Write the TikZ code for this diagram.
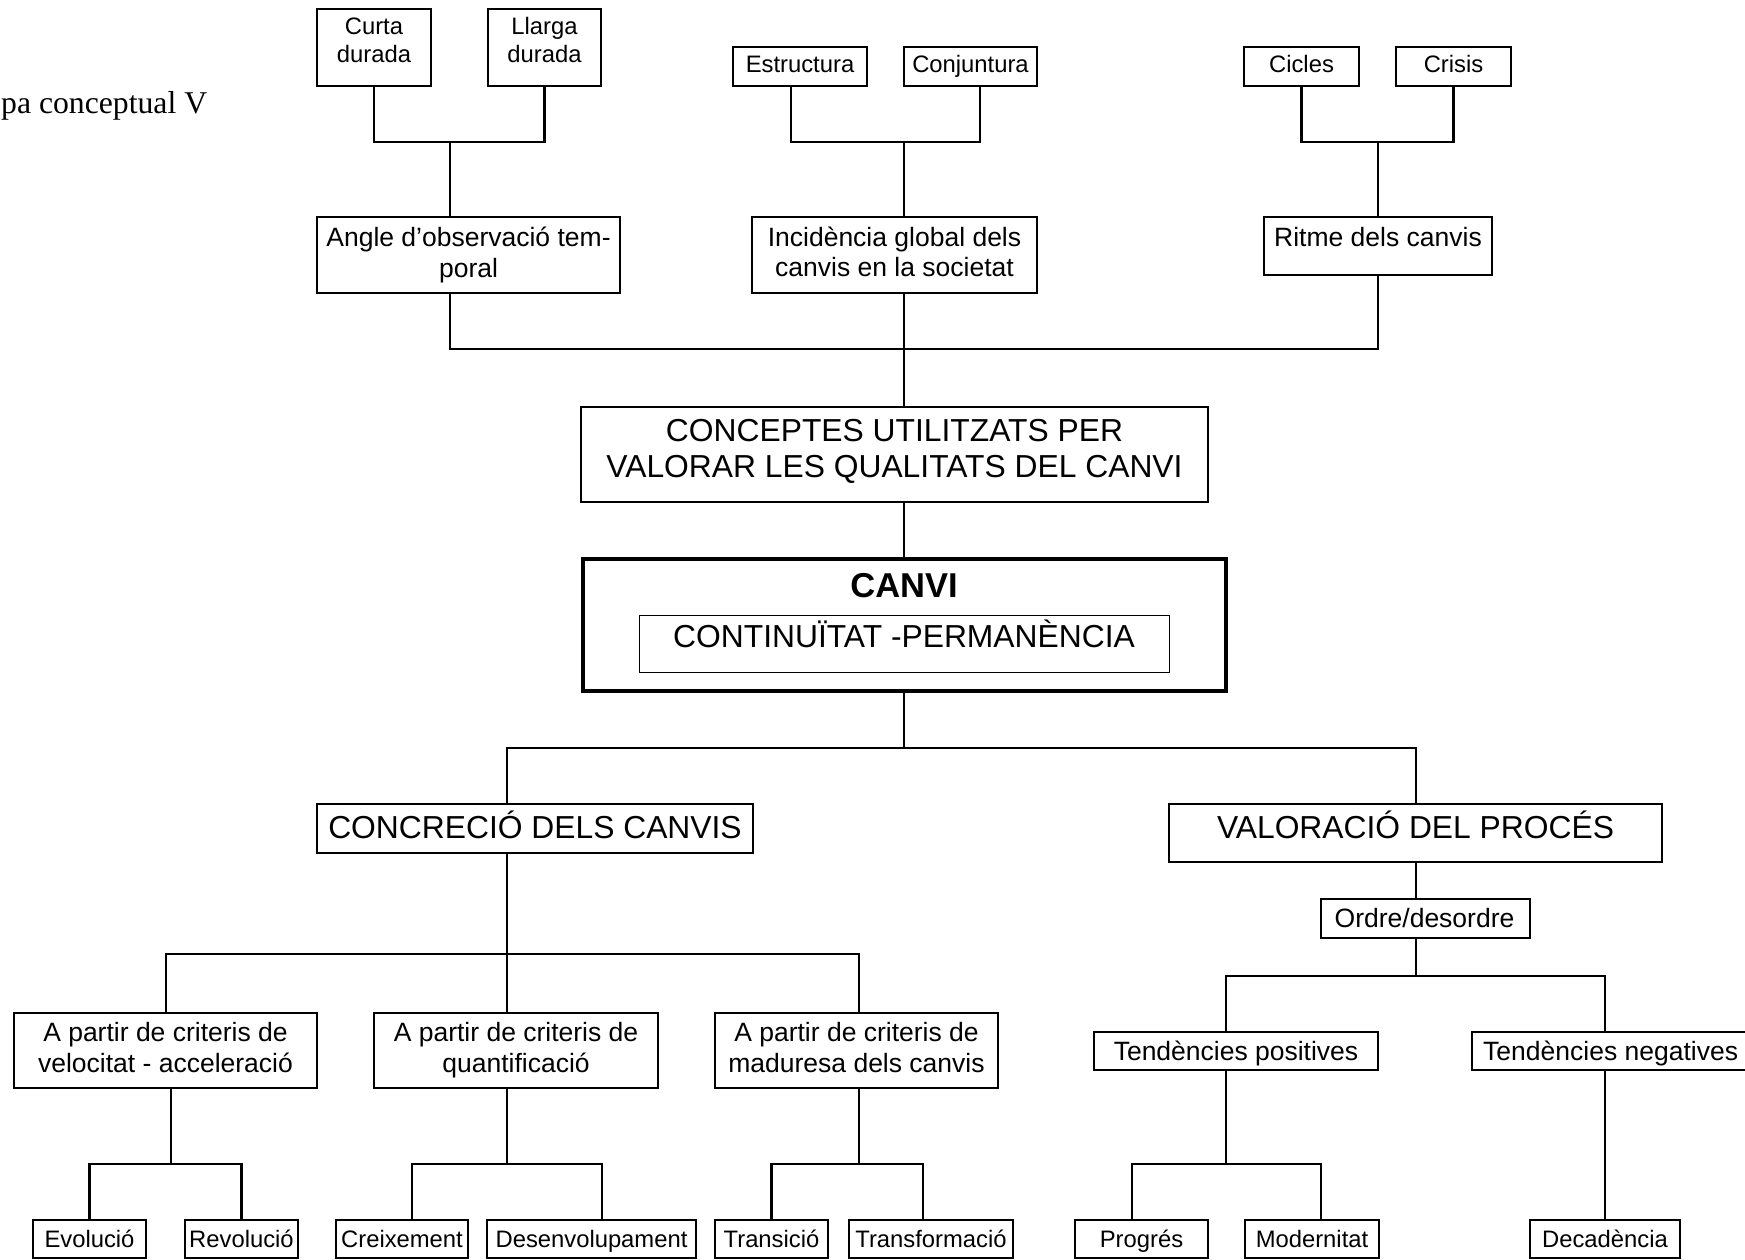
\documentclass[tikz,border=0pt]{standalone}
\usepackage{fontspec}
\setmainfont{Liberation Sans}
\newfontfamily\titlefont{Liberation Serif}
\begin{document}
\begin{tikzpicture}[x=1pt,y=-1pt,
  box/.style={draw, rectangle, line width=1.5pt, inner sep=0pt},
  thickbox/.style={draw, rectangle, line width=4pt, inner sep=0pt},
  thinbox/.style={draw, rectangle, line width=1pt, inner sep=0pt},
  link/.style={line width=2.2pt},
  lbl/.style={inner sep=0pt, anchor=base, align=center},
  small/.style={font=\fontsize{23.8}{28}\selectfont},
  medium/.style={font=\fontsize{26.5}{30.5}\selectfont},
  large/.style={font=\fontsize{31.8}{36}\selectfont},
  heading/.style={font=\fontsize{34.5}{40}\selectfont\bfseries}]
\useasboundingbox (0,0) rectangle (1745,1260);

% caption fragment at the upper left
\node[inner sep=0pt, anchor=base west, font=\titlefont\fontsize{31.7}{36}\selectfont] (title) at (1,114) {pa conceptual V};

% label positions give the baseline of the last line of each text

% ---- upper level: qualities of change ----
\node[box, minimum width=114, minimum height=77] (curta) at (374,47.5) {};
\node[box, minimum width=113, minimum height=77] (llarga) at (544.5,47.5) {};
\node[box, minimum width=134, minimum height=39] (estructura) at (800,66.5) {};
\node[box, minimum width=133, minimum height=39] (conjuntura) at (970.5,66.5) {};
\node[box, minimum width=115, minimum height=39] (cicles) at (1301.5,66.5) {};
\node[box, minimum width=115, minimum height=39] (crisis) at (1453.5,66.5) {};

\node[lbl, small] (curta-t) at (374,63) {Curta\\durada};
\node[lbl, small] (llarga-t) at (544.5,63) {Llarga\\durada};
\node[lbl, small] (estructura-t) at (800,73) {Estructura};
\node[lbl, small] (conjuntura-t) at (970.5,73) {Conjuntura};
\node[lbl, small] (cicles-t) at (1301.5,73) {Cicles};
\node[lbl, small] (crisis-t) at (1453.5,73) {Crisis};

\node[box, minimum width=303, minimum height=76] (angle) at (468.5,255) {};
\node[box, minimum width=285, minimum height=76] (incid) at (894.5,255) {};
\node[box, minimum width=228, minimum height=58] (ritme) at (1378,246) {};

\node[lbl, medium] (angle-t) at (468.5,277) {Angle d’observació tem-\\poral};
\node[lbl, medium] (incid-t) at (894.5,276.5) {Incidència global dels\\canvis en la societat};
\node[lbl, medium] (ritme-t) at (1378,246) {Ritme dels canvis};

\node[box, minimum width=627, minimum height=95] (conceptes) at (894.5,454.5) {};
\node[lbl, large] (conceptes-t) at (894.5,477) {CONCEPTES UTILITZATS PER\\VALORAR LES QUALITATS DEL CANVI};

% ---- central concept ----
\node[thickbox, minimum width=643, minimum height=132] (canvi) at (904.5,625) {};
\node[lbl, heading] (canvi-t) at (904,597) {CANVI};
\node[thinbox, minimum width=530, minimum height=57] (cont) at (904,643.5) {};
\node[lbl, large] (cont-t) at (904,647) {CONTINUÏTAT -PERMANÈNCIA};

% ---- lower level ----
\node[box, minimum width=436, minimum height=49] (concrecio) at (535,828.5) {};
\node[lbl, large] (concrecio-t) at (535,838) {CONCRECIÓ DELS CANVIS};
\node[box, minimum width=493, minimum height=58] (valoracio) at (1415.5,833) {};
\node[lbl, large] (valoracio-t) at (1415.5,838) {VALORACIÓ DEL PROCÉS};

\node[box, minimum width=209, minimum height=39] (ordre) at (1425.5,918.5) {};
\node[lbl, medium] (ordre-t) at (1424.5,927) {Ordre/desordre};

\node[box, minimum width=284, minimum height=38] (tpos) at (1236,1051) {};
\node[lbl, medium] (tpos-t) at (1236,1060) {Tendències positives};
\node[box, minimum width=284, minimum height=38] (tneg) at (1614,1051) {};
\node[lbl, medium, anchor=base west] (tneg-t) at (1483,1060) {Tendències negatives};

\node[box, minimum width=303, minimum height=75] (critA) at (165.5,1050.5) {};
\node[box, minimum width=284, minimum height=75] (critB) at (516,1050.5) {};
\node[box, minimum width=283, minimum height=75] (critC) at (856.5,1050.5) {};
\node[lbl, medium] (critA-t) at (165.5,1072) {A partir de criteris de\\velocitat - acceleració};
\node[lbl, medium] (critB-t) at (516,1072) {A partir de criteris de\\quantificació};
\node[lbl, medium] (critC-t) at (856.5,1072) {A partir de criteris de\\maduresa dels canvis};

\node[box, minimum width=113, minimum height=38] (evolucio) at (89.5,1239) {};
\node[box, minimum width=113, minimum height=38] (revolucio) at (241.5,1239) {};
\node[box, minimum width=132, minimum height=38] (creixement) at (402,1239) {};
\node[box, minimum width=209, minimum height=38] (desenv) at (591.5,1239) {};
\node[box, minimum width=113, minimum height=38] (transicio) at (771.5,1239) {};
\node[box, minimum width=164, minimum height=38] (transform) at (931,1239) {};
\node[box, minimum width=133, minimum height=38] (progres) at (1141.5,1239) {};
\node[box, minimum width=134, minimum height=38] (modernitat) at (1312,1239) {};
\node[box, minimum width=150, minimum height=38] (decadencia) at (1605,1239) {};

\node[lbl, small] (evolucio-t) at (89.5,1247) {Evolució};
\node[lbl, small] (revolucio-t) at (241.5,1247) {Revolució};
\node[lbl, small] (creixement-t) at (402,1247) {Creixement};
\node[lbl, small] (desenv-t) at (591.5,1247) {Desenvolupament};
\node[lbl, small] (transicio-t) at (771.5,1247) {Transició};
\node[lbl, small] (transform-t) at (931,1247) {Transformació};
\node[lbl, small] (progres-t) at (1141.5,1247) {Progrés};
\node[lbl, small] (modernitat-t) at (1312,1247) {Modernitat};
\node[lbl, small] (decadencia-t) at (1605,1247) {Decadència};

% ---- junction points ----
\coordinate (j1) at (450,142);
\coordinate (j2) at (904,142);
\coordinate (j2l) at (791,142);
\coordinate (j2r) at (980,142);
\coordinate (j3) at (1378,142);
\coordinate (b2) at (904,349);
\coordinate (b3) at (904,748);
\coordinate (b3l) at (507,748);
\coordinate (b3r) at (1416,748);
\coordinate (b4) at (507,954);
\coordinate (b4l) at (166,954);
\coordinate (b4r) at (859,954);
\coordinate (b5) at (1416,976);
\coordinate (b5l) at (1226,976);
\coordinate (b5r) at (1605,976);
\coordinate (ga) at (171,1164);
\coordinate (gb) at (507,1164);
\coordinate (gbl) at (412,1164);
\coordinate (gbr) at (602,1164);
\coordinate (gc) at (859,1164);
\coordinate (gcr) at (923,1164);
\coordinate (gp) at (1226,1164);
\coordinate (gpl) at (1132,1164);
\coordinate (gpr) at (1321,1164);

% ---- connectors ----
\draw[link] (curta.south) |- (j1) -| (llarga.south);
\draw[link] (j1) -- (j1 |- angle.north);
\draw[link] (estructura.south -| j2l) -- (j2l) -- (j2r) -- (conjuntura.south -| j2r);
\draw[link] (j2) -- (j2 |- incid.north);
\draw[link] (cicles.south) |- (j3) -| (crisis.south);
\draw[link] (j3) -- (ritme.north);

\draw[link] (j1 |- angle.south) |- (b2) -| (ritme.south);
\draw[link] (incid.south -| b2) -- (b2) -- (conceptes.north -| b2);
\draw[link] (conceptes.south -| b2) -- (canvi.north -| b2);

\draw[link] (canvi.south -| b3) -- (b3);
\draw[link] (concrecio.north -| b3l) |- (b3r) -- (valoracio.north -| b3r);

\draw[link] (concrecio.south -| b4) -- (b4);
\draw[link] (critA.north -| b4l) |- (b4r) -- (critC.north -| b4r);
\draw[link] (b4) -- (critB.north -| b4);

\draw[link] (valoracio.south -| b5) -- (ordre.north -| b5);
\draw[link] (ordre.south -| b5) -- (b5);
\draw[link] (tpos.north -| b5l) |- (b5r) -- (tneg.north -| b5r);

\draw[link] (critA.south -| ga) -- (ga);
\draw[link] (evolucio.north) |- (ga) -| (revolucio.north);
\draw[link] (critB.south -| gb) -- (gb);
\draw[link] (creixement.north -| gbl) -- (gbl) -- (gbr) -- (desenv.north -| gbr);
\draw[link] (critC.south -| gc) -- (gc);
\draw[link] (transicio.north) |- (gc) -| (transform.north -| gcr);
\draw[link] (tpos.south -| gp) -- (gp);
\draw[link] (progres.north -| gpl) -- (gpl) -- (gpr) -- (modernitat.north -| gpr);
\draw[link] (tneg.south -| decadencia.north) -- (decadencia.north);
\end{tikzpicture}
\end{document}
